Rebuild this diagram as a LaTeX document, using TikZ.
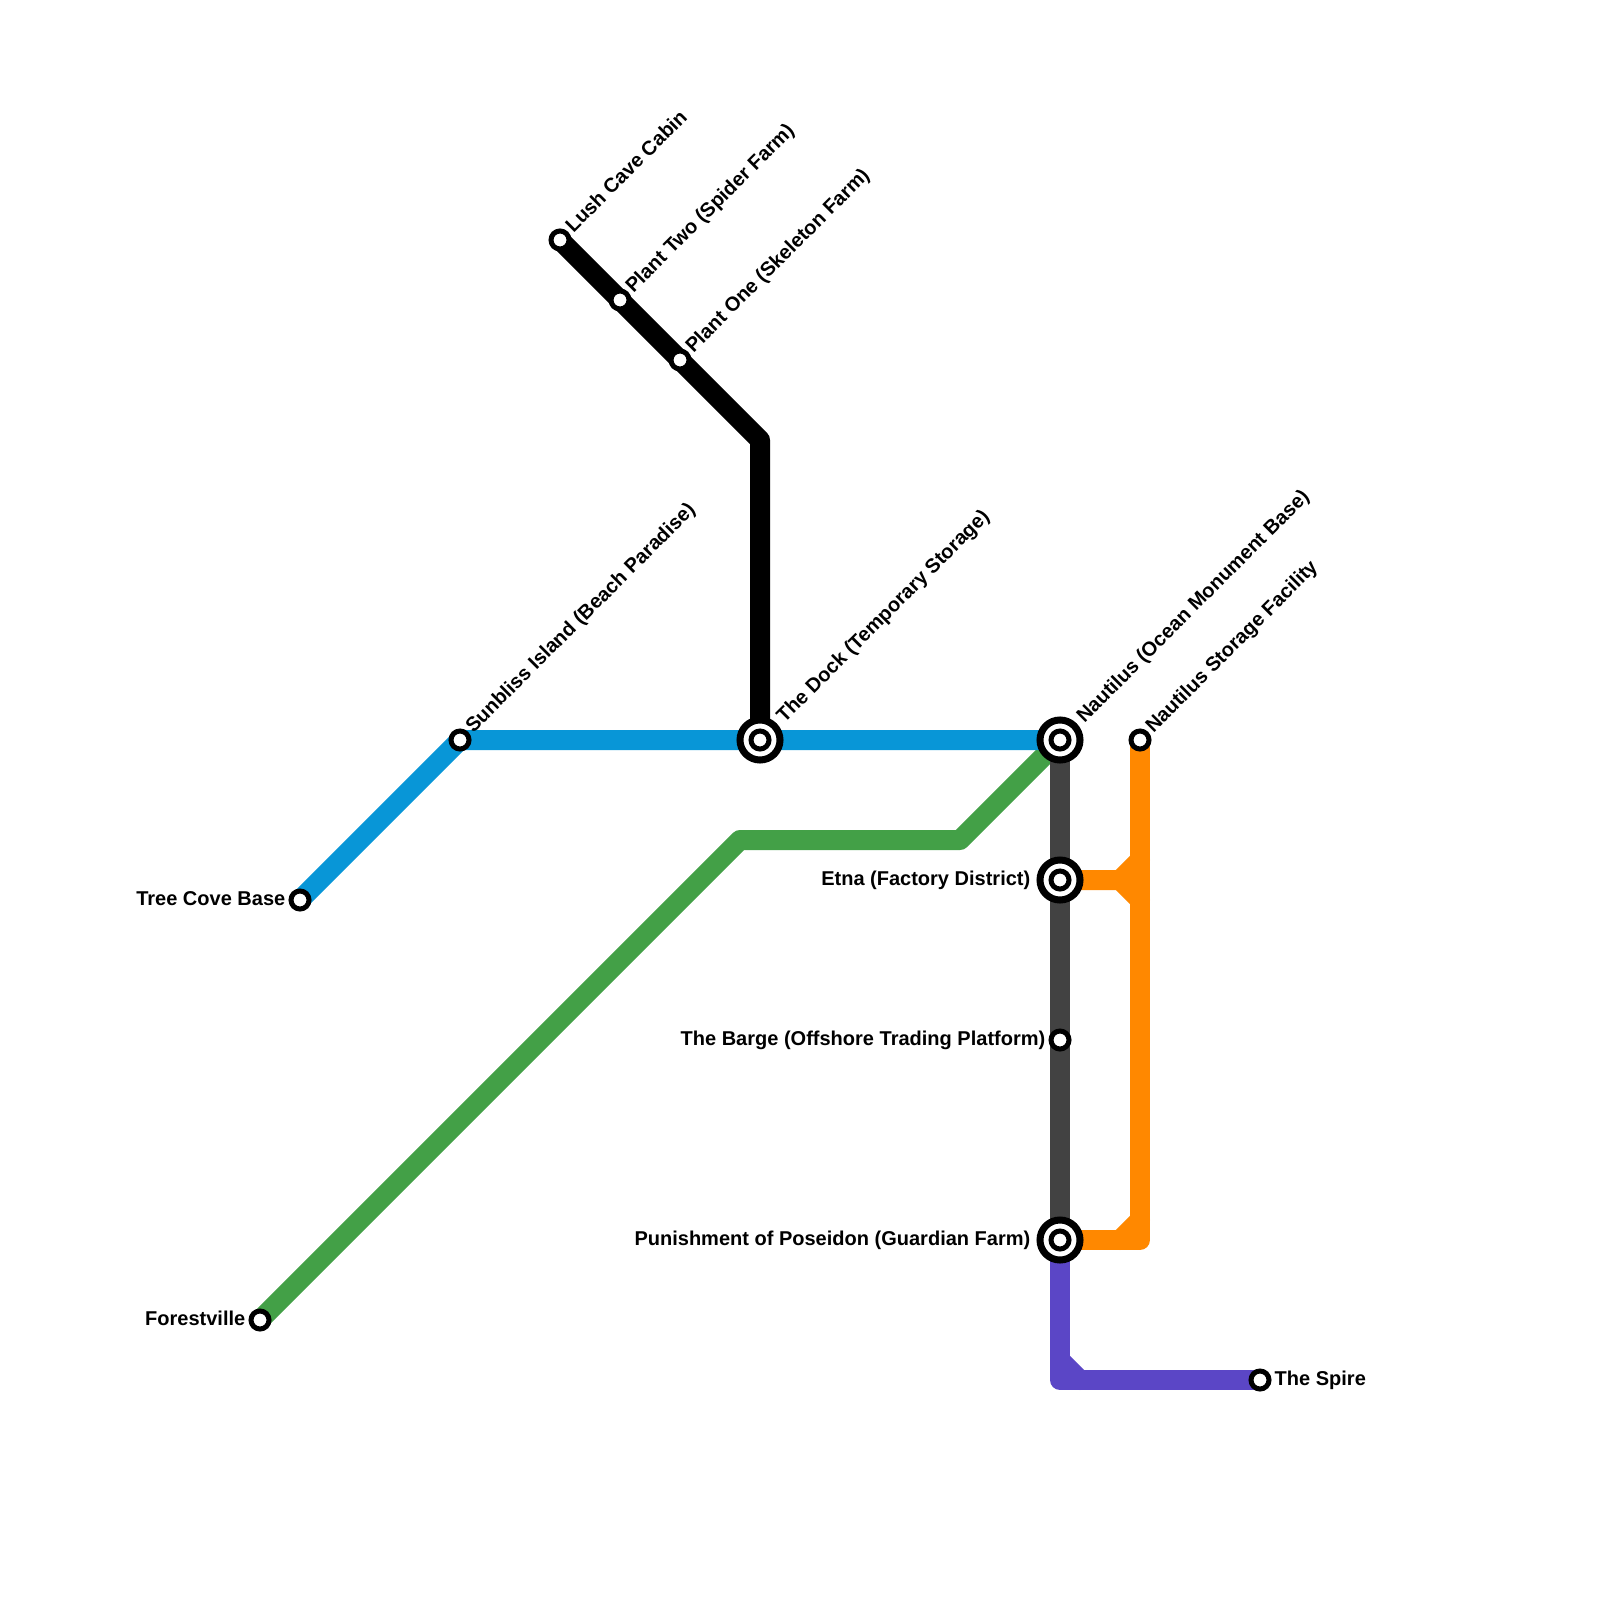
\documentclass[tikz,border=0pt]{standalone}
\usepackage{fontspec}
\setmainfont{Liberation Sans}
\usetikzlibrary{backgrounds}

\definecolor{lineblue}{HTML}{0896D7}
\definecolor{linegreen}{HTML}{43A047}
\definecolor{linegrey}{HTML}{424242}
\definecolor{lineorange}{HTML}{FF8800}
\definecolor{linepurple}{HTML}{5B46C6}

\begin{document}
\begin{tikzpicture}[
    x=0.01cm,
    y=-0.01cm,
    route/.style={line width=0.2cm,line cap=round,line join=round},
    stop/.style={circle,draw=black,fill=white,line width=0.05cm,minimum size=0.18cm,inner sep=0pt},
    hub/.style={circle,draw=black,fill=white,line width=0.07cm,minimum size=0.4cm,inner sep=0pt,
        path picture={\draw[black,fill=white,line width=0.05cm] (path picture bounding box.center) circle (0.09cm);}},
    namene/.style={font=\bfseries,text=black,inner sep=0pt,anchor=base west,rotate=45},
    namee/.style={font=\bfseries,text=black,inner sep=0pt,anchor=base west},
    namew/.style={font=\bfseries,text=black,inner sep=0pt,anchor=base east}
]
\useasboundingbox (0,0) rectangle (1600,1600);
\fontsize{5.69pt}{7pt}\selectfont

% Stations
\node[stop] (lush) at (560,240) {};
\node[stop] (plantTwo) at (620,300) {};
\node[stop] (plantOne) at (680,360) {};
\node[stop] (sunbliss) at (460,740) {};
\node[stop] (treeCove) at (300,900) {};
\node[stop] (forestville) at (260,1320) {};
\node[stop] (barge) at (1060,1040) {};
\node[stop] (storage) at (1140,740) {};
\node[stop] (spire) at (1260,1380) {};
\node[hub] (dock) at (760,740) {};
\node[hub] (nautilus) at (1060,740) {};
\node[hub] (etna) at (1060,880) {};
\node[hub] (poseidon) at (1060,1240) {};

% Bends
\coordinate (blackBend) at (760,440);
\coordinate (greenLow) at (740,840);
\coordinate (greenHigh) at (960,840);
\coordinate (etnaFork) at (1120,880);
\coordinate (etnaUp) at (1140,860);
\coordinate (etnaDown) at (1140,900);
\coordinate (orangeCorner) at (1140,1240);
\coordinate (orangeIn) at (1120,1240);
\coordinate (orangeUp) at (1140,1220);
\coordinate (purpleCorner) at (1060,1380);
\coordinate (purpleUp) at (1060,1360);
\coordinate (purpleIn) at (1080,1380);

% Lines go behind the stations
\begin{scope}[on background layer]
\draw[route,black] (lush.center) -- (plantTwo.center) -- (plantOne.center) -- (blackBend) -- (dock.center);
\draw[route,linegreen] (forestville.center) -- (greenLow) -- (greenHigh) -- (nautilus.center);
\draw[route,lineblue] (treeCove.center) -- (sunbliss.center) -- (dock.center) -- (nautilus.center);
\draw[route,linegrey] (nautilus.center) -- (etna.center) -- (barge.center) -- (poseidon.center);
\draw[route,lineorange] (storage.center) -- (orangeCorner) -- (poseidon.center);
\draw[route,lineorange] (etna.center) -- (etnaFork) -- (etnaUp);
\draw[route,lineorange] (etnaFork) -- (etnaDown);
\draw[route,lineorange] (orangeIn) -- (orangeUp);
\draw[route,linepurple] (poseidon.center) -- (purpleCorner) -- (spire.center);
\draw[route,linepurple] (purpleUp) -- (purpleIn);
\end{scope}

% Labels
\node[namene] (lushName) at ([shift={(13,-6)}]lush.center) {Lush Cave Cabin};
\node[namene] (plantTwoName) at ([shift={(13,-6)}]plantTwo.center) {Plant Two (Spider Farm)};
\node[namene] (plantOneName) at ([shift={(13,-6)}]plantOne.center) {Plant One (Skeleton Farm)};
\node[namene] (sunblissName) at ([shift={(13,-6)}]sunbliss.center) {Sunbliss Island (Beach Paradise)};
\node[namene] (dockName) at ([shift={(24,-16)}]dock.center) {The Dock (Temporary Storage)};
\node[namene] (nautilusName) at ([shift={(24,-16)}]nautilus.center) {Nautilus (Ocean Monument Base)};
\node[namene] (storageName) at ([shift={(13,-6)}]storage.center) {Nautilus Storage Facility};
\node[namee] (spireName) at ([shift={(14,5)}]spire.center) {The Spire};
\node[namew] (treeCoveName) at ([shift={(-14,5)}]treeCove.center) {Tree Cove Base};
\node[namew] (forestvilleName) at ([shift={(-14,5)}]forestville.center) {Forestville};
\node[namew] (bargeName) at ([shift={(-14,5)}]barge.center) {The Barge (Offshore Trading Platform)};
\node[namew] (etnaName) at ([shift={(-29,5)}]etna.center) {Etna (Factory District)};
\node[namew] (poseidonName) at ([shift={(-29,5)}]poseidon.center) {Punishment of Poseidon (Guardian Farm)};

\end{tikzpicture}
\end{document}
